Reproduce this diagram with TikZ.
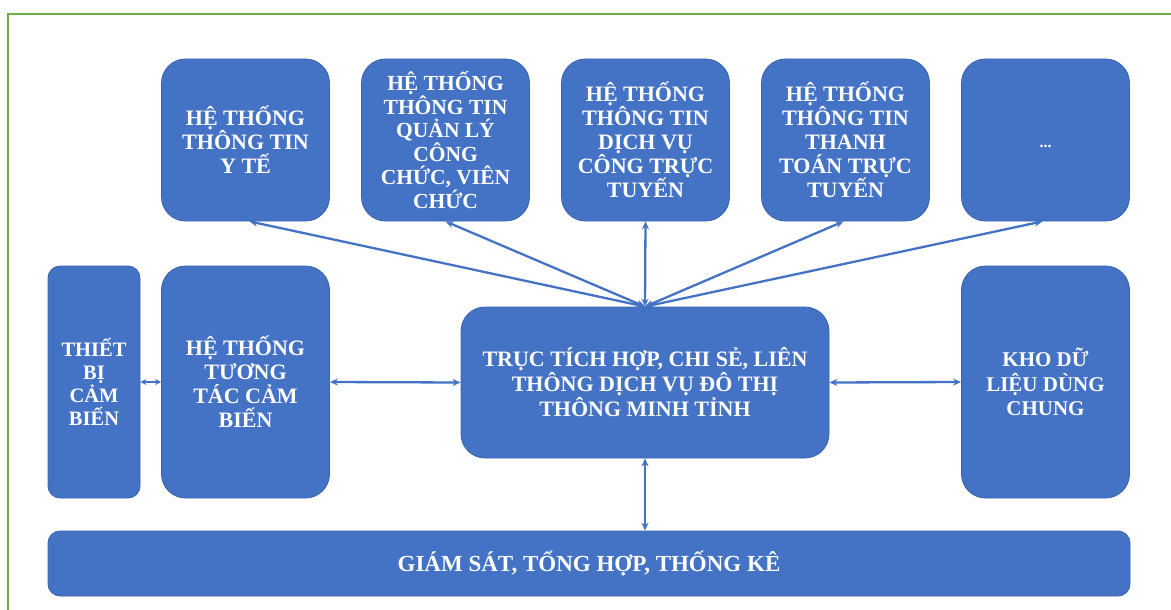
\documentclass[tikz,border=0pt]{standalone}
\usepackage{fontspec}
\setmainfont{Liberation Serif}
\usetikzlibrary{arrows.meta}
\definecolor{boxblue}{HTML}{4472C4}
\definecolor{boxedge}{HTML}{3B64AE}
\definecolor{framegreen}{HTML}{70AD47}
\tikzset{
  blk/.style={rectangle, rounded corners=24pt, fill=boxblue, draw=boxedge, line width=0.8pt,
    text=white, align=center, inner sep=0pt,
    font=\fontsize{22}{24}\selectfont\bfseries},
  topblk/.style={blk, minimum width=168pt, minimum height=162pt},
  link/.style={draw=boxblue, line width=2.3pt, {Stealth[length=8pt,width=7pt]}-{Stealth[length=8pt,width=7pt]}},
}
\begin{document}
\begin{tikzpicture}[x=1pt,y=-1pt]
\useasboundingbox (0,0) rectangle (1171,610);
\draw[framegreen, line width=2.5pt] (8,612) -- (8,14) -- (1172,14);

% top row
\node[topblk] (b1) at (245.5,140) {HỆ THỐNG\\THÔNG TIN\\Y TẾ};
\node[topblk, font=\fontsize{21.5}{23.5}\selectfont\bfseries] (b2) at (445.5,140) {HỆ THỐNG\\THÔNG TIN\\QUẢN LÝ\\CÔNG\\CHỨC, VIÊN\\CHỨC};
\node[topblk] (b3) at (645.5,140) {HỆ THỐNG\\THÔNG TIN\\DỊCH VỤ\\CÔNG TRỰC\\TUYẾN};
\node[topblk] (b4) at (845.5,140) {HỆ THỐNG\\THÔNG TIN\\THANH\\TOÁN TRỰC\\TUYẾN};
\node[topblk, font=\fontsize{16}{18}\selectfont\bfseries] (b5) at (1045.5,140) {\raisebox{-7pt}[0pt][0pt]{...}};

% middle row
\node[blk, rounded corners=12pt, minimum width=92pt, minimum height=232pt,
      font=\fontsize{20.5}{23}\selectfont\bfseries] (sens) at (94,382) {THIẾT\\BỊ\\CẢM\\BIẾN};
\node[blk, minimum width=168pt, minimum height=232pt] (inter) at (245.5,382) {HỆ THỐNG\\TƯƠNG\\TÁC CẢM\\BIẾN};
\node[blk, minimum width=368pt, minimum height=151pt,
      font=\fontsize{22}{25}\selectfont\bfseries] (hub) at (645,382.5) {TRỤC TÍCH HỢP, CHI SẺ, LIÊN\\THÔNG DỊCH VỤ ĐÔ THỊ\\THÔNG MINH TỈNH};
\node[blk, minimum width=168pt, minimum height=232pt,
      font=\fontsize{21}{24.5}\selectfont\bfseries] (kho) at (1045.5,382) {KHO DỮ\\LIỆU DÙNG\\CHUNG};

% bottom
\node[blk, rounded corners=12pt, minimum width=1082pt, minimum height=65pt,
      font=\fontsize{23}{25}\selectfont\bfseries] (bot) at (589,563.5) {GIÁM SÁT, TỔNG HỢP, THỐNG KÊ};

% connectors
\draw[link] ([xshift=4pt]b1.south) -- (hub.north);
\draw[link] (b2.south) -- (hub.north);
\draw[link] (b3.south) -- (hub.north);
\draw[link] ([xshift=-2pt]b4.south) -- (hub.north);
\draw[link] ([xshift=-3pt]b5.south) -- (hub.north);
\draw[link, {Stealth[length=6pt,width=6pt]}-{Stealth[length=6pt,width=6pt]}] (sens.east) -- (inter.west);
\draw[link] (inter.east) -- (hub.west);
\draw[link] (hub.east) -- (kho.west);
\draw[link] (hub.south) -- (hub.south |- bot.north);
\end{tikzpicture}
\end{document}
